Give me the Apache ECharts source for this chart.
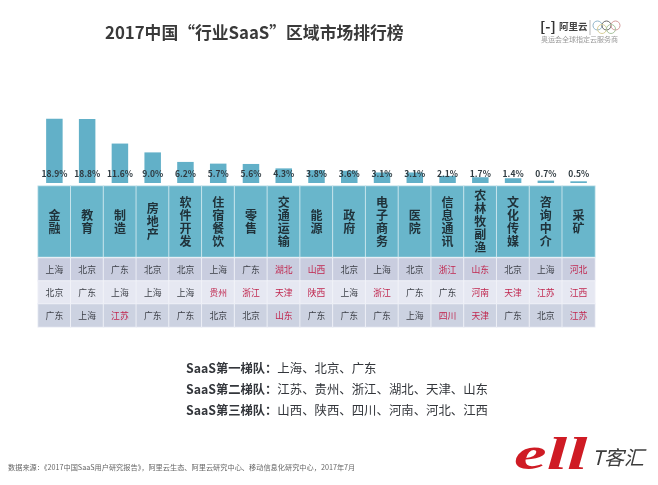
<!DOCTYPE html>
<html>
<head>
<meta charset="utf-8">
<style>
html, body { margin: 0; padding: 0; background: #fff; }
#main { width: 658px; height: 485px; }
</style>
<script src="https://cdn.jsdelivr.net/npm/echarts@6/dist/echarts.min.js"></script>
</head>
<body>
<div id="main"></div>
<script>
var industries = ['金融', '教育', '制造', '房地产', '软件开发', '住宿餐饮', '零售', '交通运输', '能源', '政府', '电子商务', '医院', '信息通讯', '农林牧副渔', '文化传媒', '咨询中介', '采矿'];
var shares = [18.9, 18.8, 11.6, 9.0, 6.2, 5.7, 5.6, 4.3, 3.8, 3.6, 3.1, 3.1, 2.1, 1.7, 1.4, 0.7, 0.5];
var rank1 = ['上海', '北京', '广东', '北京', '北京', '上海', '广东', '湖北', '山西', '北京', '上海', '北京', '浙江', '山东', '北京', '上海', '河北'];
var rank2 = ['北京', '广东', '上海', '上海', '上海', '贵州', '浙江', '天津', '陕西', '上海', '浙江', '广东', '广东', '河南', '天津', '江苏', '江西'];
var rank3 = ['广东', '上海', '江苏', '广东', '广东', '北京', '北京', '山东', '广东', '广东', '广东', '上海', '四川', '天津', '广东', '北京', '江苏'];
var tier1 = ['上海', '北京', '广东'];
var tier2 = ['江苏', '贵州', '浙江', '湖北', '天津', '山东'];
var tier3 = ['山西', '陕西', '四川', '河南', '河北', '江西'];

var font = '"Noto Sans CJK SC", sans-serif';
var rowColors = ['#c9cddf', '#e6e8f2', '#ccd2e1'];

// 表头一行
var headData = industries.map(function (name, i) {
    return [i, 0, shares[i]];
});

// 排名三行，第一梯队之外的城市用红色
var rows = [rank1, rank2, rank3];
var rankData = [];
rows.forEach(function (row, r) {
    row.forEach(function (city, i) {
        rankData.push({
            value: [i, r, 1],
            itemStyle: { color: rowColors[r] },
            label: { color: tier1.indexOf(city) >= 0 ? '#3d4048' : '#c0274f' }
        });
    });
});

function tierLine(name, list, y) {
    return {
        type: 'text',
        left: 186,
        top: y - 6,
        style: {
            text: '{b|SaaS第' + name + '梯队：}{n|' + list.join('、') + '}',
            rich: {
                b: { font: 'bold 12.3px ' + font, fill: '#33363b' },
                n: { font: '12.4px ' + font, fill: '#33363b' }
            }
        }
    };
}

var rings = [
    [597.5, 25.5, '#8fb4c9'], [606.5, 25.5, '#666666'], [615.5, 25.5, '#d49a9a'],
    [602, 29, '#d8cf9a'], [611, 29, '#a9c4a0']
].map(function (c) {
    return {
        type: 'circle',
        shape: { cx: c[0], cy: c[1], r: 4.5 },
        style: { fill: 'none', stroke: c[2], lineWidth: 1 }
    };
});

var chart = echarts.init(document.getElementById('main'));

var option = {
    backgroundColor: '#fff',
    animation: false,
    title: {
        text: '2017中国“行业SaaS”区域市场排行榜',
        left: 100,
        top: 19,
        textStyle: { fontFamily: font, fontSize: 16.8, fontWeight: 'bold', color: '#3a3a3a' }
    },
    grid: [
        { left: 38, width: 557, top: 115, height: 68 },
        { left: 38, width: 557, top: 186, height: 71 },
        { left: 38, width: 557, top: 258, height: 69 }
    ],
    xAxis: [
        { type: 'category', gridIndex: 0, data: industries, show: false },
        { type: 'category', gridIndex: 1, data: industries, show: false },
        { type: 'category', gridIndex: 2, data: industries, show: false }
    ],
    yAxis: [
        { type: 'value', gridIndex: 0, min: 0, max: 20, show: false },
        { type: 'category', gridIndex: 1, data: ['行业'], show: false },
        { type: 'category', gridIndex: 2, data: ['第一', '第二', '第三'], inverse: true, show: false }
    ],
    series: [
        {
            type: 'bar',
            data: shares,
            barWidth: 16.5,
            itemStyle: { color: '#62b0c8' },
            label: {
                show: true,
                position: 'insideBottom',
                distance: 5,
                formatter: function (p) {
                    return p.value.toFixed(1) + '%';
                },
                fontFamily: font,
                fontSize: 8.5,
                fontWeight: 'bold',
                color: '#2f3a40'
            }
        },
        {
            type: 'heatmap',
            xAxisIndex: 1,
            yAxisIndex: 1,
            data: headData,
            itemStyle: { color: '#69b6cb', borderColor: '#d9eef3', borderWidth: 0.8 },
            label: {
                show: true,
                formatter: function (p) {
                    return industries[p.value[0]].split('').join('\n');
                },
                fontFamily: font,
                fontSize: 12,
                fontWeight: 'bold',
                lineHeight: 13,
                color: '#20323a'
            }
        },
        {
            type: 'heatmap',
            xAxisIndex: 2,
            yAxisIndex: 2,
            data: rankData,
            itemStyle: { borderColor: '#f4f5fa', borderWidth: 0.8 },
            label: {
                show: true,
                formatter: function (p) {
                    return rows[p.value[1]][p.value[0]];
                },
                fontFamily: font,
                fontSize: 8.8
            }
        }
    ],
    graphic: [
        tierLine('一', tier1, 368),
        tierLine('二', tier2, 389),
        tierLine('三', tier3, 410),
        {
            type: 'text',
            left: 8,
            top: 464,
            style: {
                text: '数据来源：《2017中国SaaS用户研究报告》，阿里云生态、阿里云研究中心、移动信息化研究中心，2017年7月',
                font: '7.2px ' + font,
                fill: '#666'
            }
        },
        // 右上角阿里云标识
        { type: 'text', left: 540, top: 20, style: { text: '[-]', font: 'bold 14px ' + font, fill: '#333' } },
        { type: 'text', left: 559, top: 22, style: { text: '阿里云', font: 'bold 9.5px ' + font, fill: '#444' } },
        { type: 'line', shape: { x1: 590, y1: 20, x2: 590, y2: 35 }, style: { stroke: '#888', lineWidth: 0.6 } },
        { type: 'text', left: 541, top: 36, style: { text: '奥运会全球指定云服务商', font: '7px ' + font, fill: '#999' } }
    ].concat(rings).concat([
        // 右下角T客汇标识
        {
            type: 'text',
            x: 514,
            y: 434,
            scaleX: 1.6,
            style: { text: 'ell', font: 'italic bold 46px "Liberation Serif", serif', fill: '#cf1b24' }
        },
        { type: 'text', left: 592, top: 447, style: { text: 'T客汇', font: 'italic 20px ' + font, fill: '#3c3c3c' } }
    ])
};

chart.setOption(option);
</script>
</body>
</html>
